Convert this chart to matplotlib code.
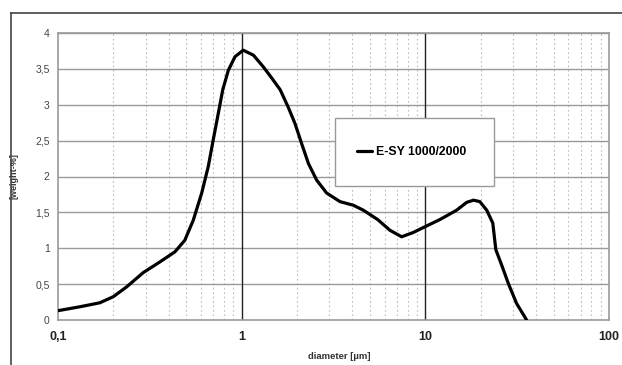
import numpy as np
import matplotlib.pyplot as plt
from matplotlib.lines import Line2D
from matplotlib.patches import Rectangle
from matplotlib.ticker import FixedLocator, FuncFormatter

# --- dados ---
diameter = [0.1, 0.132, 0.169, 0.200, 0.236, 0.291, 0.359, 0.433, 0.49, 0.545,
            0.606, 0.658, 0.70, 0.746, 0.789, 0.846, 0.92, 1.02, 1.16, 1.31,
            1.46, 1.62, 1.79, 1.95, 2.12, 2.31, 2.56, 2.90, 3.43, 4.05,
            4.6, 5.5, 6.42, 7.43, 8.6, 9.96, 12.0, 14.8, 16.8, 18.3,
            19.8, 21.6, 23.3, 24.2, 26.0, 28.3, 31.4, 35.6]
weight = [0.13, 0.185, 0.24, 0.325, 0.46, 0.66, 0.81, 0.95, 1.11, 1.39,
          1.77, 2.14, 2.51, 2.88, 3.21, 3.48, 3.67, 3.76, 3.69, 3.53,
          3.37, 3.21, 2.97, 2.74, 2.46, 2.18, 1.95, 1.77, 1.65, 1.60,
          1.53, 1.40, 1.25, 1.16, 1.22, 1.30, 1.40, 1.53, 1.64, 1.67,
          1.65, 1.53, 1.35, 0.98, 0.77, 0.51, 0.23, 0.0]
serie = "E-SY 1000/2000"

fam = ['Liberation Sans', 'DejaVu Sans']

fig = plt.figure(figsize=(6.22, 3.65), dpi=100)
ax = fig.add_axes([58/622, 45/365, 551/622, 287/365])

# moldura externa (só topo e esquerda visíveis)
fig.add_artist(Line2D([11/622, 1], [1 - 13/365, 1 - 13/365], color='#444444', lw=1.2))
fig.add_artist(Line2D([11/622, 11/622], [0, 1 - 13/365], color='#444444', lw=1.2))

ax.set_xscale('log')
ax.set_xlim(0.1, 100)
ax.set_ylim(0, 4)

# grade
minors = [m * 10.0**e for e in (-1, 0, 1) for m in range(2, 10)]
for xv in minors:
    ax.axvline(xv, color='#bbbbbb', lw=0.8, ls=(0, (1.5, 2.5)), zorder=1)
for yv in np.arange(0.5, 4.01, 0.5):
    ax.axhline(yv, color='#9a9a9a', lw=1.0, zorder=1)
for xv in (1, 10):
    ax.axvline(xv, color='#222222', lw=1.0, zorder=2)

for s in ax.spines.values():
    s.set_color('#999999')
    s.set_linewidth(1.2)

ax.plot(diameter, weight, color='black', lw=2.3, solid_joinstyle='round',
        solid_capstyle='round', label=serie, zorder=3)

# eixos
ax.xaxis.set_major_locator(FixedLocator([0.1, 1, 10, 100]))
ax.xaxis.set_minor_locator(FixedLocator([]))
ax.xaxis.set_major_formatter(FuncFormatter(lambda v, p: f"{v:g}".replace('.', ',')))
ax.set_yticks(np.arange(0, 4.01, 0.5))
ax.yaxis.set_major_formatter(FuncFormatter(lambda v, p: f"{v:g}".replace('.', ',')))
ax.tick_params(axis='both', length=0)
ax.tick_params(axis='x', pad=8)
ax.tick_params(axis='y', pad=6)
for t in ax.get_xticklabels():
    t.set_fontfamily(fam); t.set_fontsize(9); t.set_fontweight('bold'); t.set_color('#222222')
for t in ax.get_yticklabels():
    t.set_fontfamily(fam); t.set_fontsize(7.5); t.set_color('#444444')

ax.set_xlabel("diameter [µm]", family=fam, fontsize=6.8, fontweight='bold',
              color='#333333')
ax.xaxis.set_label_coords(0.51, -0.11)
ax.set_ylabel("[weight-%]", family=fam, fontsize=6.5, fontweight='bold', color='#333333')
ax.yaxis.set_label_coords(-0.072, 0.5)

# caixa da legenda
box = Rectangle(((335 - 58)/551, 1 - (186 - 33)/287), 159/551, 68/287,
                transform=ax.transAxes, facecolor='white', edgecolor='#999999',
                lw=1.0, zorder=4)
ax.add_patch(box)
leg = ax.legend(loc='center left', bbox_to_anchor=((357 - 58)/551, 1 - (152 - 33)/287),
                frameon=False, handlelength=1.2, borderaxespad=0, borderpad=0,
                handletextpad=0.35,
                prop={'family': fam, 'size': 8.8, 'weight': 'bold'})
leg.set_zorder(5)

fig.savefig('out.png', dpi=100)
